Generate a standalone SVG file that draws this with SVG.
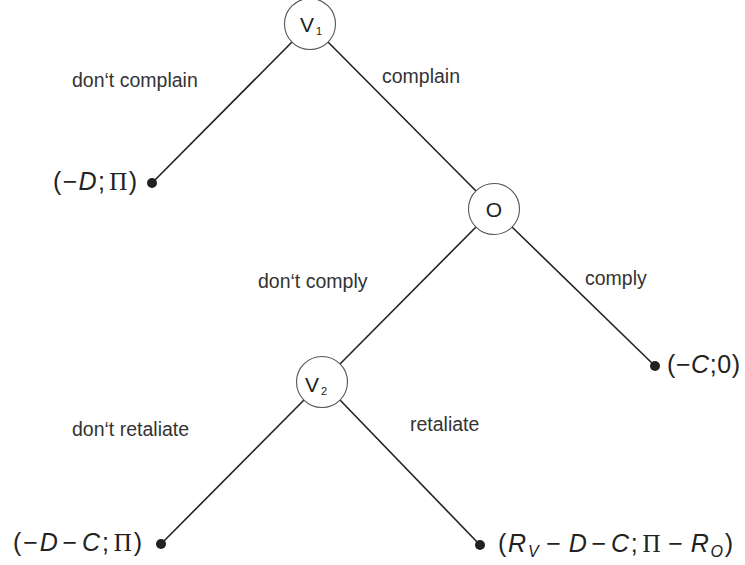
<svg xmlns="http://www.w3.org/2000/svg" width="745" height="565" viewBox="0 0 745 565">
<style>
.node{fill:#fff;stroke:#555;stroke-width:1.1}
.edge{stroke:#222;stroke-width:1.6;fill:none}
.dot{fill:#222}
.lbl{font-family:"Liberation Sans",Arial,sans-serif;font-size:19.5px;fill:#333}
.nt{font-family:"Liberation Sans",Arial,sans-serif;font-size:21px;fill:#222}
.sub{font-size:11px}
.f{font-family:"Liberation Sans",Arial,sans-serif;font-size:25px;fill:#222}
.i{font-style:italic}
.s{font-family:"Liberation Serif","Times New Roman",serif}
.fs{font-size:16px;font-style:italic}
</style>
<rect width="745" height="565" fill="#fff"/>
<g id="connectors">
<line class="edge" x1="292" y1="42" x2="152" y2="183"/>
<line class="edge" x1="328" y1="42" x2="476" y2="191"/>
<line class="edge" x1="476" y1="227" x2="340" y2="364"/>
<line class="edge" x1="512" y1="227" x2="655" y2="366"/>
<line class="edge" x1="304" y1="400" x2="161" y2="544"/>
<line class="edge" x1="340" y1="400" x2="480" y2="545"/>
</g>
<g id="labels">
<text class="lbl" x="72" y="87">don‘t complain</text>
<text class="lbl" x="382" y="83">complain</text>
<text class="lbl" x="258" y="288">don‘t comply</text>
<text class="lbl" x="585" y="285">comply</text>
<text class="lbl" x="72" y="436">don‘t retaliate</text>
<text class="lbl" x="410" y="431">retaliate</text>
</g>
<g id="V1">
<circle class="node" cx="310" cy="24" r="25.5"/>
<text class="nt" x="300" y="32">V<tspan class="sub" dx="2" dy="3">1</tspan></text>
</g>
<g id="O">
<circle class="node" cx="494" cy="209" r="25.5"/>
<text class="nt" x="494" y="216.5" text-anchor="middle">O</text>
</g>
<g id="V2">
<circle class="node" cx="322" cy="382" r="25.5"/>
<text class="nt" x="305" y="392">V<tspan class="sub" dx="2" dy="3">2</tspan></text>
</g>
<g id="leaf1">
<circle class="dot" cx="152" cy="183" r="5"/>
<text class="f" x="53" y="190" textLength="84" lengthAdjust="spacing">(−<tspan class="i">D</tspan>;<tspan class="s" dx="3">Π</tspan>)</text>
</g>
<g id="leaf2">
<circle class="dot" cx="655" cy="366" r="5"/>
<text class="f" x="667" y="373" textLength="73" lengthAdjust="spacing">(−<tspan class="i">C</tspan>;0)</text>
</g>
<g id="leaf3">
<circle class="dot" cx="161" cy="544" r="5"/>
<text class="f" x="13" y="551" textLength="129" lengthAdjust="spacing">(−<tspan class="i">D</tspan><tspan dx="3">−</tspan><tspan class="i" dx="3">C</tspan>;<tspan class="s" dx="3">Π</tspan>)</text>
</g>
<g id="leaf4">
<circle class="dot" cx="480" cy="545" r="5"/>
<text class="f" x="498" y="552" textLength="235" lengthAdjust="spacing">(<tspan class="i">R</tspan><tspan class="fs" dy="5">V</tspan><tspan dx="6" dy="-5">−</tspan><tspan class="i" dx="6">D</tspan><tspan dx="3">−</tspan><tspan class="i" dx="3">C</tspan>;<tspan class="s" dx="3">Π</tspan><tspan dx="6">−</tspan><tspan class="i" dx="6">R</tspan><tspan class="fs" dy="5">O</tspan><tspan dy="-5">)</tspan></text>
</g>
</svg>
